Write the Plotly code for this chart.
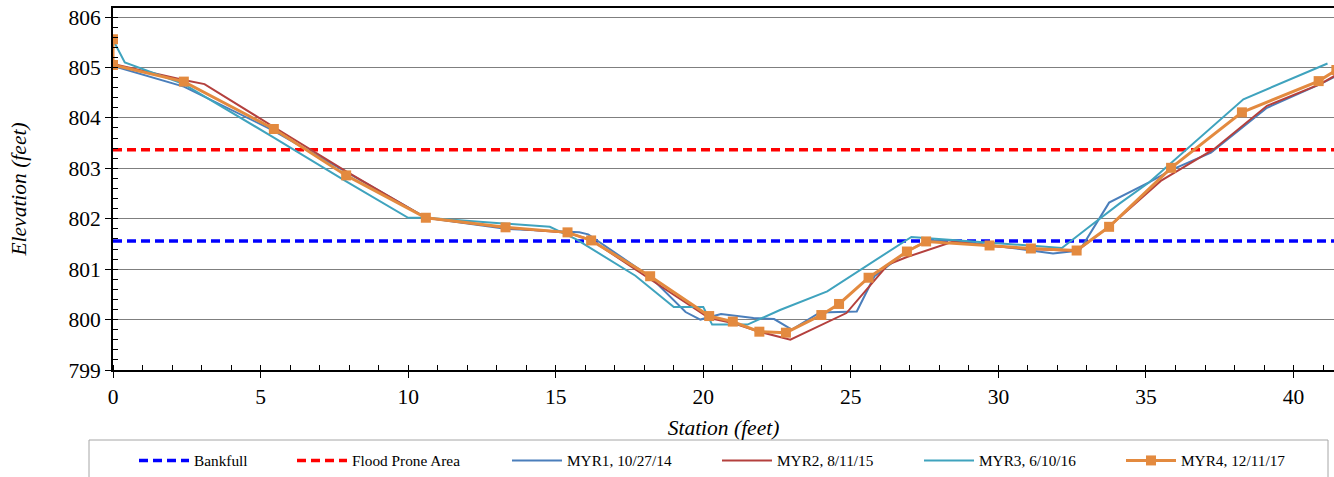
import plotly.graph_objects as go

# ---------------- data ----------------
bankfull_x = [0, 42]
bankfull_y = [801.56, 801.56]
flood_x = [0, 42]
flood_y = [803.37, 803.37]

myr1_x = [0, 0, 2.4, 5.4, 7.9, 10.6, 13.3, 15.8, 16.1, 18.2, 19.4, 19.9, 20.6, 21.7, 22.4, 23.0,
          23.95, 25.2, 25.8, 26.9, 27.6, 28.4, 31.85, 32.75, 33.75, 35.1, 35.9, 37.2, 39.1, 40.9, 41.5]
myr1_y = [805.5, 805.03, 804.62, 803.76, 802.93, 802.02, 801.8, 801.73, 801.69, 800.85, 800.15, 800.0,
          800.11, 800.03, 800.01, 799.8, 800.14, 800.16, 800.86, 801.35, 801.57, 801.58, 801.31, 801.37,
          802.32, 802.72, 802.98, 803.31, 804.2, 804.67, 804.85]

myr2_x = [0, 0, 2.4, 3.1, 5.45, 7.9, 10.6, 13.3, 15.4, 16.2, 18.2, 20.2, 21.0, 21.9, 22.95, 24.85,
          26.26, 26.9, 28.47, 29.7, 31.1, 32.65, 33.75, 35.5, 37.3, 39.1, 40.9, 41.5]
myr2_y = [805.5, 805.07, 804.75, 804.67, 803.82, 802.94, 802.02, 801.82, 801.72, 801.58, 800.8, 800.03,
          799.93, 799.76, 799.6, 800.13, 801.09, 801.24, 801.55, 801.46, 801.4, 801.36, 801.84, 802.75,
          803.38, 804.24, 804.67, 804.87]

myr3_x = [0, 0.4, 2.4, 5.45, 7.9, 10.0, 10.6, 13.3, 14.8, 15.7, 17.7, 19.0, 20.0, 20.3, 21.5, 22.6,
          24.2, 27.05, 28.45, 32.15, 33.1, 34.1, 35.1, 38.3, 41.15]
myr3_y = [805.55, 805.1, 804.67, 803.61, 802.74, 802.02, 802.02, 801.9, 801.84, 801.59, 800.87, 800.25,
          800.25, 799.9, 799.9, 800.19, 800.56, 801.64, 801.58, 801.42, 801.85, 802.3, 802.72, 804.37,
          805.08]

myr4_x = [0, 0, 2.4, 5.45, 7.9, 10.6, 13.3, 15.4, 16.2, 18.2, 20.2, 21.0, 21.9, 22.8, 24.0, 24.6,
          25.6, 26.9, 27.55, 29.7, 31.1, 32.65, 33.75, 35.85, 38.25, 40.85, 41.45]
myr4_y = [805.56, 805.05, 804.72, 803.78, 802.86, 802.02, 801.83, 801.73, 801.57, 800.86, 800.07,
          799.96, 799.76, 799.74, 800.09, 800.31, 800.83, 801.35, 801.55, 801.47, 801.41, 801.37,
          801.84, 803.01, 804.11, 804.73, 804.95]

names = ["Bankfull", "Flood Prone Area", "MYR1, 10/27/14", "MYR2, 8/11/15", "MYR3, 6/10/16", "MYR4, 12/11/17"]

# ---------------- figure ----------------
FONT = "Liberation Serif, Times New Roman, serif"
W, H = 1334, 477
ML, MR, MT, MB = 113, 0, 8, 107
PW = W - ML - MR
PH = H - MT - MB


def px_x(p):
    return (p - ML) / PW


def px_y(p):
    return (H - MB - p) / PH


fig = go.Figure()
fig.add_trace(go.Scatter(x=bankfull_x, y=bankfull_y, mode="lines", name=names[0], legend="legend",
                         line=dict(color="#0000FF", width=3.5, dash="9px,5px")))
fig.add_trace(go.Scatter(x=flood_x, y=flood_y, mode="lines", name=names[1], legend="legend2",
                         line=dict(color="#FF0000", width=3.5, dash="9px,5px")))
fig.add_trace(go.Scatter(x=myr1_x, y=myr1_y, mode="lines", name=names[2], legend="legend3",
                         line=dict(color="#4A7EBB", width=2)))
fig.add_trace(go.Scatter(x=myr2_x, y=myr2_y, mode="lines", name=names[3], legend="legend4",
                         line=dict(color="#B4403D", width=2)))
fig.add_trace(go.Scatter(x=myr3_x, y=myr3_y, mode="lines", name=names[4], legend="legend5",
                         line=dict(color="#3FA3BE", width=2)))
fig.add_trace(go.Scatter(x=myr4_x, y=myr4_y, mode="lines+markers", name=names[5], legend="legend6",
                         line=dict(color="#E38A3F", width=3),
                         marker=dict(symbol="square", size=10, color="#E38A3F")))

legend_px = [139, 297, 512, 722, 924, 1126]
legend_keys = ["legend", "legend2", "legend3", "legend4", "legend5", "legend6"]
leg_layout = {}
for k, p in zip(legend_keys, legend_px):
    leg_layout[k] = dict(x=px_x(p - 5), y=px_y(461), xanchor="left", yanchor="middle",
                         orientation="h", itemwidth=50, bgcolor="rgba(0,0,0,0)", borderwidth=0,
                         font=dict(family=FONT, size=15.3, color="black"))

fig.update_layout(
    width=W, height=H,
    margin=dict(l=ML, r=MR, t=MT, b=MB),
    paper_bgcolor="white", plot_bgcolor="white",
    font=dict(family=FONT, color="black"),
    showlegend=True,
    **leg_layout,
    xaxis=dict(range=[0, 41.37], tick0=0, dtick=5, ticks="outside", ticklen=6, tickwidth=1,
               tickcolor="black", showline=True, linecolor="black", linewidth=2, mirror=True,
               showgrid=False, zeroline=False, tickfont=dict(size=21.5, family=FONT),
               minor=dict(dtick=1, ticks="inside", ticklen=5, tickcolor="black", showgrid=False),
               title=dict(text="Station (feet)", font=dict(size=21.5, family=FONT, style="italic"),
                          standoff=12)),
    xaxis2=dict(overlaying="x", matches="x", anchor="y", side="bottom", tick0=0, dtick=5,
                ticks="inside", ticklen=6, tickcolor="black", showticklabels=False,
                showgrid=False, zeroline=False, showline=False),
    yaxis=dict(range=[799, 806.18], tick0=799, dtick=1, ticks="outside", ticklen=6, tickwidth=1,
               tickcolor="black", showline=True, linecolor="black", linewidth=2,
               showgrid=True, gridcolor="#7F7F7F", gridwidth=1, zeroline=False,
               tickfont=dict(size=21.5, family=FONT),
               minor=dict(dtick=0.2, ticks="inside", ticklen=5, tickcolor="black", showgrid=False),
               title=dict(text="Elevation (feet)", font=dict(size=21.5, family=FONT, style="italic"),
                          standoff=36)),
    shapes=[dict(type="rect", xref="paper", yref="paper", x0=px_x(89), x1=px_x(1328),
                 y0=px_y(440), y1=px_y(520), line=dict(color="#A6A6A6", width=1),
                 fillcolor="rgba(0,0,0,0)", layer="below")],
)

fig.write_html("out.html")
